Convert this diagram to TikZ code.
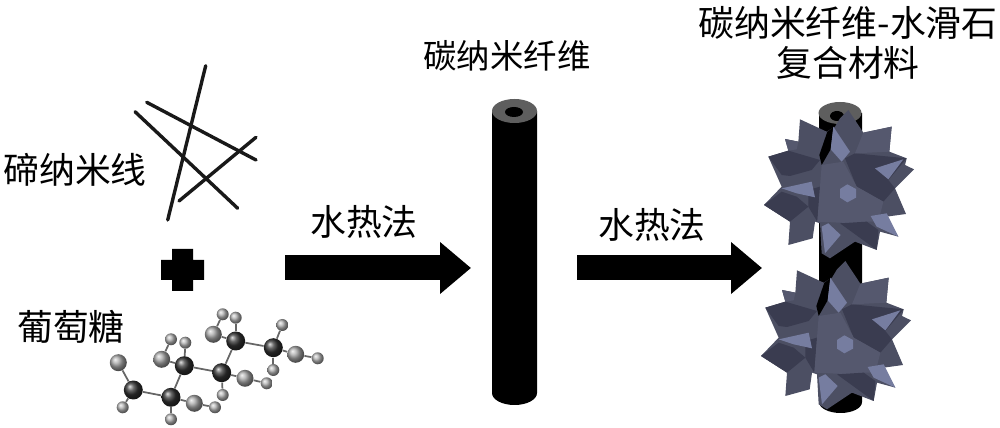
\documentclass[tikz,border=0pt]{standalone}
\usepackage{fontspec}
\setmainfont{Noto Sans CJK SC}
\usetikzlibrary{arrows.meta,backgrounds}
\definecolor{stBase}{HTML}{4C4F63}
\definecolor{stDark}{HTML}{3A3C50}
\definecolor{stMid}{HTML}{55586E}
\definecolor{stLight}{HTML}{767DA0}
\definecolor{tubeGray}{HTML}{5E5E5E}
\tikzset{
  lbl/.style={inner sep=0pt,font=\fontsize{20.4pt}{24pt}\selectfont},
  lblmid/.style={inner sep=0pt,font=\fontsize{19pt}{23pt}\selectfont},
  lbltitle/.style={inner sep=0pt,align=center,font=\fontsize{20.4pt}{22.5pt}\selectfont},
  wire/.style={line width=0.068cm,line cap=round,black!90},
  bigarrow/.style={line width=0.5cm,-{Triangle[length=0.62cm,width=1cm]},black},
  catom/.style={circle,inner sep=0pt,minimum size=0.38cm,ball color=black!80,shading=ball},
  oatom/.style={circle,inner sep=0pt,minimum size=0.34cm,ball color=black!35,shading=ball},
  hatom/.style={circle,inner sep=0pt,minimum size=0.24cm,ball color=black!30,shading=ball},
  bond/.style={line width=0.035cm,black!60},
  facL/.style={fill=stLight,draw=none},
  facD/.style={fill=stDark,draw=none},
  facM/.style={fill=stMid,draw=none},
  pics/starball/.style={code={
    \fill[stBase] (325,60)--(370,128)--(455,110)--(448,185)--(500,205)--(495,225)--(522,238)--(465,295)--(498,372)--(440,380)--(475,440)--(420,425)--(410,480)--(345,455)--(270,505)--(245,490)--(240,400)--(225,395)--(218,445)--(145,465)--(150,395)--(72,345)--(125,290)--(85,200)--(145,182)--(135,147)--(175,155)--(180,88)--(260,125)--(285,110)--(300,85)--cycle;
    \fill[black] (262,125)--(280,112)--(272,178)--(245,225)--(238,195)--cycle;
    \fill[facD] (85,200)--(125,255)--(150,258)--(215,240)--(240,210)--(145,182)--cycle;
    \fill[facD] (72,345)--(125,305)--(170,320)--(205,350)--(150,395)--cycle;
    \fill[facD] (205,300)--(240,290)--(232,395)--(205,350)--cycle;
    \fill[facD] (315,205)--(345,190)--(500,205)--(445,270)--(465,295)--(430,335)--(350,290)--cycle;
    \fill[facM] (245,225)--(310,215)--(350,290)--(430,335)--(415,395)--(380,395)--(345,400)--(232,395)--cycle;
    \fill[facD] (300,400)--(380,395)--(415,420)--(410,480)--cycle;
    \fill[facM] (135,147)--(175,155)--(170,178)--(145,182)--cycle;
    \fill[facM] (370,128)--(455,110)--(448,185)--(345,190)--cycle;
    \fill[facL] (280,110)--(330,185)--(305,215)--(272,178)--cycle;
    \fill[facL] (405,235)--(490,208)--(445,268)--cycle;
    \fill[facL] (125,295)--(215,275)--(225,322)--(170,310)--cycle;
    \fill[facL] (322,283)--(348,297)--(348,323)--(322,337)--(300,323)--(300,297)--cycle;
    \fill[facL] (392,378)--(440,370)--(475,440)--(410,410)--cycle;
    \fill[facL] (245,410)--(265,400)--(302,435)--(255,490)--cycle;
  }}
}
\begin{document}
\begin{tikzpicture}[x=0.02cm,y=-0.02cm]
\useasboundingbox (0,0) rectangle (1000,428);
% labels
\node[lbl] (tenano) at (75,170) {碲纳米线};
\node[lbl] (glucose) at (71,327) {葡萄糖};
\node[lbl] (hydro1) at (364,222) {水热法};
\node[lbl] (hydro2) at (652,225) {水热法};
\node[lblmid] (cnf) at (507,56) {碳纳米纤维};
\node[lbltitle] (composite) at (848,43) {碳纳米纤维-水滑石\\复合材料};
% nanowires
\coordinate (a1) at (205.7,65.7); \coordinate (a2) at (167.7,220);
\coordinate (b1) at (146.7,102.3); \coordinate (b2) at (256,160);
\coordinate (c1) at (135,111.7); \coordinate (c2) at (237.7,208.3);
\coordinate (d1) at (179,201); \coordinate (d2) at (256,137.3);
\draw[wire] (a1)--(a2);
\draw[wire] (b1)--(b2);
\draw[wire] (c1)--(c2);
\draw[wire] (d1)--(d2);
% plus
\fill[black] (172,249)--(193,249)--(193,260)--(204,260)--(204,280)--(193,280)--(193,291)--(172,291)--(172,280)--(161,280)--(161,260)--(172,260)--cycle;
% molecule
\node[catom] (C1) at (133.3,390) {};
\node[catom] (C2) at (171,397.3) {};
\node[catom] (C3) at (184.3,365.7) {};
\node[catom] (C4) at (221.7,372.7) {};
\node[catom] (C5) at (235.7,341) {};
\node[catom] (C6) at (273.3,347.7) {};
\node[oatom] (O1) at (118.3,362.7) {};
\node[oatom] (O2) at (194.3,403.3) {};
\node[oatom] (O3) at (161.7,359.3) {};
\node[oatom] (O4) at (245,378.3) {};
\node[oatom] (O5) at (213.3,334.3) {};
\node[oatom] (O6) at (295.7,354.3) {};
\node[hatom] (H1) at (122.7,407.3) {};
\node[hatom] (H2) at (171,419.3) {};
\node[hatom] (H3) at (215,407.3) {};
\node[hatom] (H4) at (171,339.3) {};
\node[hatom] (H5) at (185.3,342.7) {};
\node[hatom] (H6) at (222.7,395) {};
\node[hatom] (H7) at (266.7,383.3) {};
\node[hatom] (H8) at (222.7,314.3) {};
\node[hatom] (H9) at (235.7,317.7) {};
\node[hatom] (H10) at (282.3,325) {};
\node[hatom] (H11) at (273.3,370) {};
\node[hatom] (H12) at (317.7,358.3) {};
\begin{scope}[on background layer]
\foreach \p/\q in {C1/C2,C2/C3,C3/C4,C4/C5,C5/C6,C1/O1,C1/H1,C2/O2,O2/H3,C2/H2,C3/O3,O3/H4,C3/H5,C4/O4,O4/H7,C4/H6,C5/O5,O5/H8,C5/H9,C6/H10,C6/H11,C6/O6,O6/H12}
  \draw[bond] (\p)--(\q);
\end{scope}
% arrows
\coordinate (ar1s) at (285,268); \coordinate (ar1e) at (471,268);
\coordinate (ar2s) at (577,268); \coordinate (ar2e) at (762,268);
\draw[bigarrow] (ar1s)--(ar1e);
\draw[bigarrow] (ar2s)--(ar2e);
% central tube
\fill[black] (492,111) -- (492,393) arc[start angle=180,end angle=0,x radius=22.5,y radius=12] -- (537,111) -- cycle;
\fill[tubeGray] (514.5,111) ellipse[x radius=22.5,y radius=12];
\fill[black] (514,112) ellipse[x radius=9,y radius=5];
% right tube
\fill[black] (819,113) -- (819,402) arc[start angle=180,end angle=0,x radius=21.5,y radius=11] -- (862,113) -- cycle;
\fill[tubeGray] (840,113) ellipse[x radius=21.5,y radius=11];
\fill[black] (837,116) ellipse[x radius=7,y radius=5];
% star clusters
\begin{scope}[shift={(740,90)},x=0.00667cm,y=-0.00667cm]
\pic {starball};
\end{scope}
\begin{scope}[shift={(737,241)},x=0.00667cm,y=-0.00667cm]
\pic {starball};
\end{scope}
\end{tikzpicture}
\end{document}
